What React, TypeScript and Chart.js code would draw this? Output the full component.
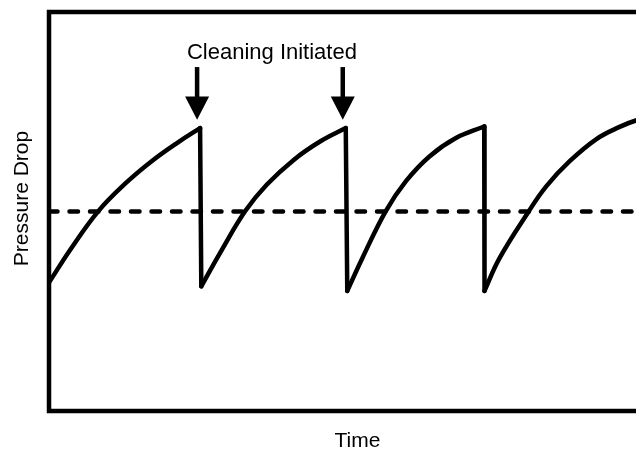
import React, { useEffect, useRef } from "react";
import { Chart, registerables } from "chart.js";

Chart.register(...registerables);

// ---- Data (arbitrary time / pressure-drop units) ----
const cycle1Time = [0, 3.7, 8.2, 12.6, 17.05, 21.5, 25.1];
const cycle1Pressure = [32.2, 40.8, 50.1, 56.9, 62.6, 67.4, 70.9];
const cycle2Time = [25.3, 28.45, 32.6, 36.2, 40.7, 45.1, 49.3];
const cycle2Pressure = [31.25, 39.7, 50.1, 56.75, 63, 67.6, 70.9];
const cycle3Time = [49.55, 52.05, 55.95, 59.3, 63.2, 67.6, 72.3];
const cycle3Pressure = [30.1, 38.3, 50.1, 57.6, 63.8, 68.4, 71.3];
const cycle4Time = [72.35, 74.8, 79.55, 82.6, 86.5, 91, 94.8, 97.5, 102];
const cycle4Pressure = [30.1, 38.2, 49.7, 56.3, 62.6, 68.2, 71.2, 72.8, 74.4];

const thresholdTime = [0, 102];
const thresholdPressure = [50, 50];

const xMin = 0;
const xMax = 102;
const yMin = 0;
const yMax = 100;

// cycles whose end is marked "Cleaning Initiated"
const markedCycles = [0, 1];
const annotationText = "Cleaning Initiated";
const xTitle = "Time";
const yTitle = "Pressure Drop";

const cycleTimes = [cycle1Time, cycle2Time, cycle3Time, cycle4Time];
const cyclePressures = [cycle1Pressure, cycle2Pressure, cycle3Pressure, cycle4Pressure];

const FONT = "'Liberation Sans', Arial, Helvetica, sans-serif";

const overlayPlugin = {
  id: "overlay",
  afterDatasetsDraw(chart: any) {
    const { ctx, chartArea: a, scales } = chart;
    const xs = scales.x;
    const ys = scales.y;
    ctx.save();
    // plot frame
    ctx.strokeStyle = "#000";
    ctx.lineWidth = 4.5;
    ctx.lineJoin = "miter";
    ctx.strokeRect(a.left, a.top, a.right - a.left, a.bottom - a.top);

    // arrows
    ctx.fillStyle = "#000";
    const arrowXs = markedCycles.map((i) => {
      const t = cycleTimes[i];
      return xs.getPixelForValue(t[t.length - 1]) - 3;
    });
    const tipY = ys.getPixelForValue(73);
    const headY = ys.getPixelForValue(78.8);
    const topY = ys.getPixelForValue(86.2);
    arrowXs.forEach((x: number) => {
      ctx.fillRect(x - 2.25, topY, 4.5, headY - topY + 1);
      ctx.beginPath();
      ctx.moveTo(x - 12, headY);
      ctx.lineTo(x + 12, headY);
      ctx.lineTo(x, tipY);
      ctx.closePath();
      ctx.fill();
    });

    // annotation label
    ctx.font = `22px ${FONT}`;
    ctx.textAlign = "center";
    ctx.textBaseline = "alphabetic";
    const midX = (arrowXs[0] + arrowXs[arrowXs.length - 1]) / 2 + 2;
    ctx.fillText(annotationText, midX, ys.getPixelForValue(88.3));

    // axis titles
    ctx.font = `21px ${FONT}`;
    ctx.fillText(xTitle, (a.left + a.right) / 2 + 1.5, 446.5);
    ctx.translate(27.5, (a.top + a.bottom) / 2 - 13);
    ctx.rotate(-Math.PI / 2);
    ctx.fillText(yTitle, 0, 0);
    ctx.restore();
  },
};

export default function App() {
  const canvasRef = useRef<HTMLCanvasElement | null>(null);

  useEffect(() => {
    const canvas = canvasRef.current;
    if (!canvas) return;

    const lineStyle = {
      borderColor: "#000",
      borderWidth: 4.5,
      pointRadius: 0,
      borderCapStyle: "round" as const,
      borderJoinStyle: "round" as const,
      fill: false,
    };

    const datasets: any[] = [];
    cycleTimes.forEach((t, i) => {
      datasets.push({
        ...lineStyle,
        label: `Cycle ${i + 1}`,
        data: t.map((x, k) => ({ x, y: cyclePressures[i][k] })),
        tension: 0.4,
      });
      if (i < cycleTimes.length - 1) {
        const next = cycleTimes[i + 1];
        datasets.push({
          ...lineStyle,
          label: `Cleaning ${i + 1}`,
          data: [
            { x: t[t.length - 1], y: cyclePressures[i][t.length - 1] },
            { x: next[0], y: cyclePressures[i + 1][0] },
          ],
          tension: 0,
        });
      }
    });
    datasets.push({
      label: "Threshold",
      data: thresholdTime.map((x, k) => ({ x, y: thresholdPressure[k] })),
      borderColor: "#000",
      borderWidth: 4.5,
      borderDash: [8.5, 12],
      borderCapStyle: "round",
      pointRadius: 0,
      tension: 0,
      fill: false,
    });

    const chart = new Chart(canvas, {
      type: "line",
      data: { datasets },
      options: {
        animation: false,
        responsive: false,
        maintainAspectRatio: false,
        layout: { padding: { left: 49, top: 12, right: 37, bottom: 39 } },
        plugins: { legend: { display: false }, tooltip: { enabled: false } },
        scales: {
          x: { type: "linear", min: xMin, max: xMax, display: false },
          y: { type: "linear", min: yMin, max: yMax, display: false },
        },
      },
      plugins: [overlayPlugin],
    });
    return () => chart.destroy();
  }, []);

  return (
    <div
      style={{
        position: "absolute",
        left: 0,
        top: 0,
        width: 636,
        height: 450,
        overflow: "hidden",
        background: "#fff",
      }}
    >
      <canvas ref={canvasRef} width={700} height={450} style={{ display: "block", width: 700, height: 450 }} />
    </div>
  );
}
